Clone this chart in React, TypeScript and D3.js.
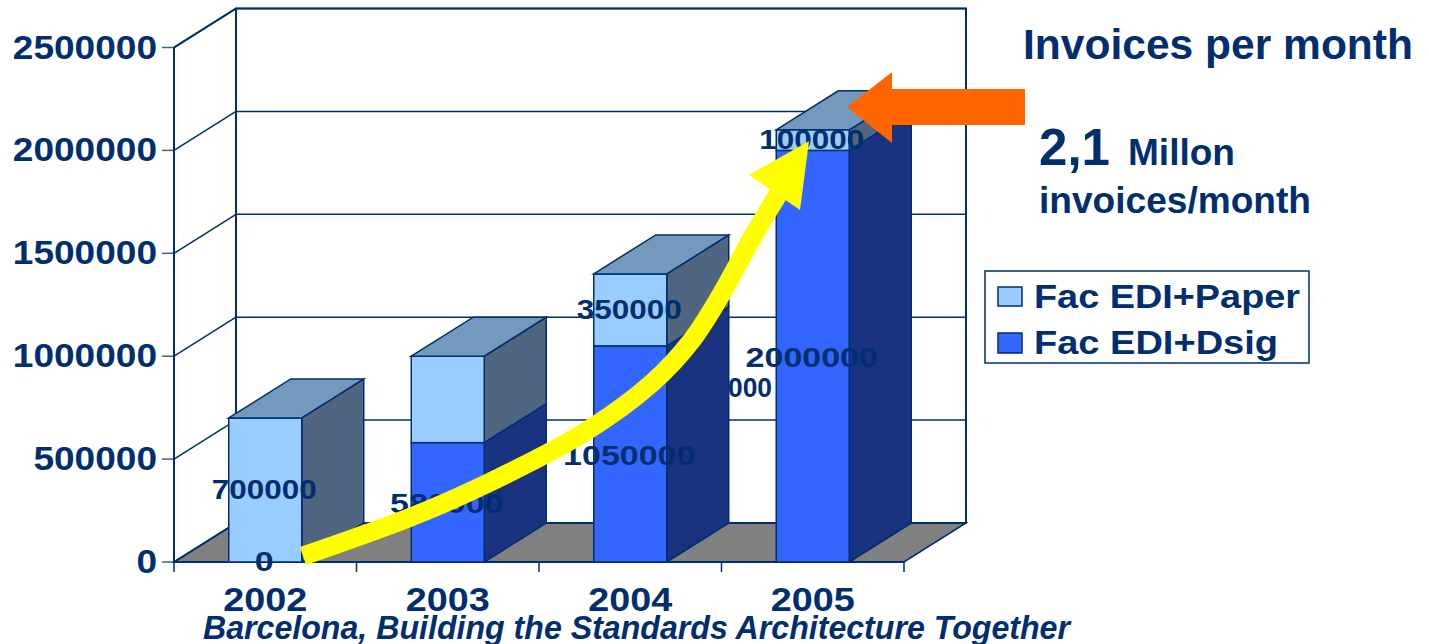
import * as d3 from "d3";

const years = ["2002", "2003", "2004", "2005"];
const dsigValues = [0, 580000, 1050000, 2000000];
const paperValues = [700000, 420000, 350000, 100000];
const dsigLabels = ["0", "580000", "1050000", "2000000"];
const paperLabels = ["700000", "", "350000", "100000"];
const yTicks = [0, 500000, 1000000, 1500000, 2000000, 2500000];

const navy = "#002E6E";
const lightBlue = "#99CCFF";
const blue = "#3366FF";
const lightSide = "#4F6580";
const blueSide = "#1A3380";
const topFace = "#7399BD";

const width = 1429;
const height = 644;
const depthX = 62;
const depthY = -39;

const x = d3.scaleBand<string>().domain(years).range([174, 904]).paddingInner(0.6).paddingOuter(0.3);
const y = d3.scaleLinear().domain([0, 2500000]).range([562, 47.5]);

const poly = (pts: [number, number][]) => pts.map((p) => p.join(",")).join(" ");

// side + front face of one stacked segment
function Segment({ year, from, to, fill, side }: { year: string; from: number; to: number; fill: string; side: string }) {
  const x0 = x(year)!;
  const x1 = x0 + x.bandwidth();
  const y0 = y(from);
  const y1 = y(to);
  return (
    <g stroke={navy} strokeWidth={1.5}>
      <polygon
        fill={side}
        points={poly([
          [x1, y0],
          [x1 + depthX, y0 + depthY],
          [x1 + depthX, y1 + depthY],
          [x1, y1],
        ])}
      />
      <rect x={x0} y={y1} width={x1 - x0} height={y0 - y1} fill={fill} />
    </g>
  );
}

// the slide text is stretched sideways, so each label gets its measured width
function Label({ tx, ty, size, w, anchor = "start", italic = false, children }: any) {
  return (
    <text
      x={tx}
      y={ty}
      fontSize={size}
      textLength={w}
      lengthAdjust="spacingAndGlyphs"
      textAnchor={anchor}
      fontStyle={italic ? "italic" : "normal"}
      fontFamily="Liberation Sans"
      fontWeight="bold"
      fill={navy}
    >
      {children}
    </text>
  );
}

const yellowCurve: [number, number][] = [
  [303, 556],
  [411, 517],
  [484, 485],
  [585, 432],
  [652, 383],
  [692, 340],
  [722, 293],
  [752, 238],
  [782, 188],
];
const yellowHead: [number, number][] = [
  [809, 141],
  [749, 175],
  [800, 210],
];
const orangeArrow: [number, number][] = [
  [847, 107],
  [892, 72],
  [892, 89],
  [1025, 89],
  [1025, 125],
  [892, 125],
  [892, 143],
];

const curve = d3.line().curve(d3.curveCatmullRom.alpha(0.5));

export default function App() {
  const left = 174;
  const right = 904;
  const base = y(0);
  const top = y(2500000);
  return (
    <svg width={width} height={height} style={{ position: "absolute", left: 0, top: 0, background: "#fff" }}>
      {/* floor */}
      <polygon
        fill="#808080"
        stroke={navy}
        strokeWidth={1.5}
        points={poly([
          [left, base],
          [left + depthX, base + depthY],
          [right + depthX, base + depthY],
          [right, base],
        ])}
      />
      {/* walls and gridlines */}
      <g stroke={navy} strokeWidth={1.5} fill="none">
        <rect x={left + depthX} y={top + depthY} width={right - left} height={base - top} strokeWidth={2} />
        <line x1={left} y1={base} x2={left} y2={top} strokeWidth={2} />
        <line x1={left} y1={top} x2={left + depthX} y2={top + depthY} strokeWidth={2} />
        {yTicks.map((t) => (
          <g key={t}>
            <line x1={left - 12} y1={y(t)} x2={left} y2={y(t)} strokeOpacity={0.75} />
            <line x1={left} y1={y(t)} x2={left + depthX} y2={y(t) + depthY} />
            <line x1={left + depthX} y1={y(t) + depthY} x2={right + depthX} y2={y(t) + depthY} />
          </g>
        ))}
        <line x1={left} y1={base} x2={right} y2={base} strokeWidth={2} />
        {d3.range(years.length + 1).map((i) => {
          const tx = left + (i * (right - left)) / years.length;
          return <line key={i} x1={tx} y1={base} x2={tx} y2={base + 10} />;
        })}
      </g>

      {/* bars */}
      {years.map((yr, i) => {
        const total = dsigValues[i] + paperValues[i];
        const x0 = x(yr)!;
        const x1 = x0 + x.bandwidth();
        return (
          <g key={yr}>
            {dsigValues[i] > 0 && <Segment year={yr} from={0} to={dsigValues[i]} fill={blue} side={blueSide} />}
            <Segment year={yr} from={dsigValues[i]} to={total} fill={lightBlue} side={lightSide} />
            <polygon
              fill={topFace}
              stroke={navy}
              strokeWidth={1.5}
              points={poly([
                [x0, y(total)],
                [x0 + depthX, y(total) + depthY],
                [x1 + depthX, y(total) + depthY],
                [x1, y(total)],
              ])}
            />
          </g>
        );
      })}

      {/* value labels */}
      {years.map((yr, i) => {
        const cx = x(yr)! + x.bandwidth() / 2;
        const mid = (a: number, b: number) => (y(a) + y(b)) / 2;
        const dsigW = dsigLabels[i].length * 18.9;
        const paperW = paperLabels[i].length * 17.5;
        return (
          <g key={yr}>
            <Label tx={cx - 1} ty={mid(0, dsigValues[i]) + (i === 0 ? 9 : 11)} size={28} w={dsigW} anchor="middle">
              {dsigLabels[i]}
            </Label>
            {paperLabels[i] && (
              <Label
                tx={cx - 1}
                ty={mid(dsigValues[i], dsigValues[i] + paperValues[i]) + 9}
                size={27}
                w={paperW}
                anchor="middle"
              >
                {paperLabels[i]}
              </Label>
            )}
          </g>
        );
      })}
      <Label tx={728} ty={397} size={28} w={44}>000</Label>

      {/* annotation arrows */}
      <path d={curve(yellowCurve) ?? ""} fill="none" stroke="#FFFF00" strokeWidth={19} />
      <polygon points={poly(yellowHead)} fill="#FFFF00" />
      <polygon points={poly(orangeArrow)} fill="#FF6600" />

      {/* axis labels */}
      {yTicks.map((t) => (
        <Label key={t} tx={157} ty={y(t) + 11} size={33} w={String(t).length * 20.6} anchor="end">
          {t}
        </Label>
      ))}
      {years.map((yr) => (
        <Label key={yr} tx={x(yr)! + x.bandwidth() / 2} ty={611} size={34} w={84} anchor="middle">
          {yr}
        </Label>
      ))}

      {/* side text */}
      <Label tx={1023} ty={59} size={43} w={390}>Invoices per month</Label>
      <Label tx={1039} ty={165} size={52} w={71}>2,1</Label>
      <Label tx={1128} ty={165} size={36} w={107}>Millon</Label>
      <Label tx={1039} ty={213} size={36} w={272}>invoices/month</Label>

      {/* legend */}
      <rect x={985} y={271} width={324} height={92} fill="#fff" stroke={navy} strokeWidth={1.5} />
      <rect x={998} y={287} width={24} height={19} fill={lightBlue} stroke={navy} strokeWidth={1.5} />
      <rect x={998} y={333} width={24} height={20} fill={blue} stroke={navy} strokeWidth={1.5} />
      <Label tx={1034} ty={308} size={33} w={266}>Fac EDI+Paper</Label>
      <Label tx={1034} ty={354} size={33} w={244}>Fac EDI+Dsig</Label>

      <Label tx={203} ty={639} size={33} w={867} italic>
        Barcelona, Building the Standards Architecture Together
      </Label>
    </svg>
  );
}
